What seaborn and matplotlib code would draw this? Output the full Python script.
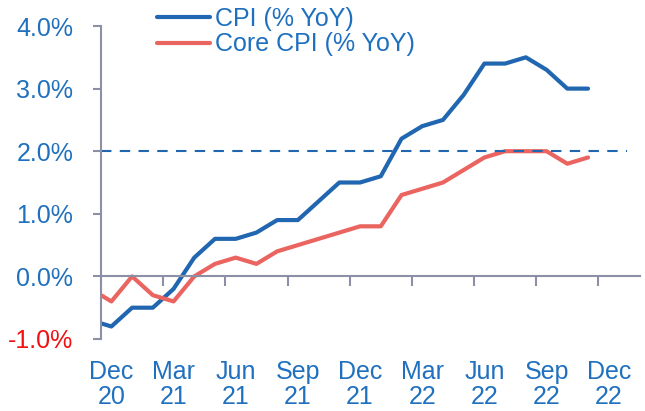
import matplotlib
matplotlib.use("Agg")
import matplotlib.pyplot as plt
import seaborn as sns
import pandas as pd
import numpy as np

# monthly data, Nov 20 .. Nov 22
months = ["Nov 20", "Dec 20", "Jan 21", "Feb 21", "Mar 21", "Apr 21", "May 21", "Jun 21",
          "Jul 21", "Aug 21", "Sep 21", "Oct 21", "Nov 21", "Dec 21", "Jan 22", "Feb 22",
          "Mar 22", "Apr 22", "May 22", "Jun 22", "Jul 22", "Aug 22", "Sep 22", "Oct 22", "Nov 22"]
cpi = [-0.7, -0.8, -0.5, -0.5, -0.2, 0.3, 0.6, 0.6, 0.7, 0.9, 0.9, 1.2, 1.5, 1.5, 1.6, 2.2,
       2.4, 2.5, 2.9, 3.4, 3.4, 3.5, 3.3, 3.0, 3.0]
core_cpi = [-0.2, -0.4, 0.0, -0.3, -0.4, 0.0, 0.2, 0.3, 0.2, 0.4, 0.5, 0.6, 0.7, 0.8, 0.8, 1.3,
            1.4, 1.5, 1.7, 1.9, 2.0, 2.0, 2.0, 1.8, 1.9]
target = 2.0
tick_labels = ["Dec\n20", "Mar\n21", "Jun\n21", "Sep\n21", "Dec\n21",
               "Mar\n22", "Jun\n22", "Sep\n22", "Dec\n22"]
y_ticks = [-1.0, 0.0, 1.0, 2.0, 3.0, 4.0]

blue = "#2166B0"
red = "#EA6460"
text_blue = "#1F70BE"
grey = "#8C90A6"

sns.set_style("white")
plt.rcParams['font.family'] = ['Liberation Sans', 'DejaVu Sans']

x = np.arange(len(months))
df = pd.DataFrame({
    "x": np.concatenate([x, x]),
    "value": cpi + core_cpi,
    "series": ["CPI (% YoY)"] * len(x) + ["Core CPI (% YoY)"] * len(x),
})

fig = plt.figure(figsize=(6.45, 4.11), dpi=100)
ax = fig.add_axes([0.1566, 0.1752, 0.8354, 0.7615])

sns.lineplot(data=df, x="x", y="value", hue="series", palette=[blue, red],
             linewidth=3, ax=ax, legend=True)
ax.hlines(target, 0.5, 25.9, colors=blue, linestyles=(0, (5, 4)), linewidth=1.5)

ax.set_xlim(0.5, 26.5)
ax.set_ylim(-1.0, 4.0)

# spines
for s in ["top", "right"]:
    ax.spines[s].set_visible(False)
ax.spines["left"].set_color(grey)
ax.spines["left"].set_linewidth(1.5)
ax.spines["bottom"].set_position(("data", 0))
ax.spines["bottom"].set_color(grey)
ax.spines["bottom"].set_linewidth(1.5)

# y ticks
ax.set_yticks(y_ticks)
ax.set_yticklabels(["%.1f%%" % v for v in y_ticks])
ax.tick_params(axis="y", direction="out", length=6, width=1.5, color=grey,
               pad=14, labelsize=18, labelcolor=text_blue, left=True)
for lbl, v in zip(ax.get_yticklabels(), y_ticks):
    if v < 0:
        lbl.set_color("#F01010")

# x ticks: marks at quarter boundaries, labels on the month
label_pos = np.arange(1, 26, 3)
ax.set_xticks(label_pos - 0.5)
ax.set_xticklabels([])
ax.tick_params(axis="x", which="major", direction="out", length=7, width=1.5,
               color=grey, bottom=True)
ax.set_xticks(label_pos, minor=True)
ax.set_xticklabels(tick_labels, minor=True)
ax.tick_params(axis="x", which="minor", length=0, pad=60, labelsize=18,
               labelcolor=text_blue)
for lbl in ax.get_xticklabels(minor=True):
    lbl.set_linespacing(1.08)

ax.set_xlabel("")
ax.set_ylabel("")

leg = ax.legend(loc="upper left", bbox_to_anchor=(0.228, 1.007), bbox_transform=fig.transFigure,
                frameon=False, fontsize=18, handlelength=2.1, handletextpad=0.2,
                labelspacing=0.05, borderaxespad=0)
for t in leg.get_texts():
    t.set_color(text_blue)
for h in leg.get_lines():
    h.set_linewidth(3)

fig.savefig("out.png", dpi=100)
